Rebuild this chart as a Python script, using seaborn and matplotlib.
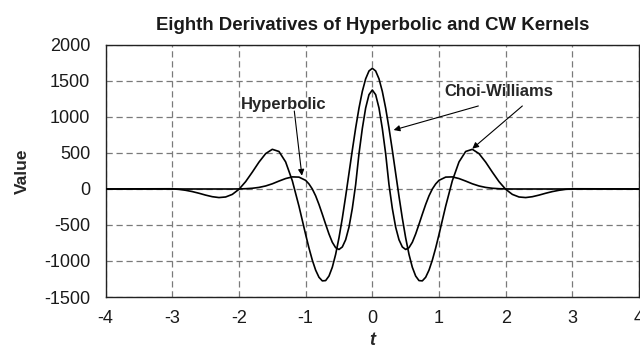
import numpy as np
import pandas as pd
import matplotlib
matplotlib.use("Agg")
import matplotlib.pyplot as plt
import seaborn as sns

# ---- data ----
t = [-4.0, -3.5, -3.0, -2.9, -2.8, -2.7, -2.6, -2.5, -2.4, -2.3, -2.2, -2.1, -2.0,
     -1.9, -1.8, -1.7, -1.6, -1.5, -1.4, -1.3, -1.2, -1.1, -1.0,
     -0.95, -0.9, -0.85, -0.8, -0.75, -0.7, -0.65, -0.6, -0.55, -0.5, -0.45, -0.4,
     -0.35, -0.3, -0.25, -0.2, -0.15, -0.1, -0.05, 0.0,
     0.05, 0.1, 0.15, 0.2, 0.25, 0.3, 0.35, 0.4, 0.45, 0.5, 0.55, 0.6, 0.65, 0.7,
     0.75, 0.8, 0.85, 0.9, 0.95, 1.0,
     1.1, 1.2, 1.3, 1.4, 1.5, 1.6, 1.7, 1.8, 1.9, 2.0, 2.1, 2.2, 2.3, 2.4, 2.5,
     2.6, 2.7, 2.8, 2.9, 3.0, 3.5, 4.0]

choi_williams = [0, 2, 3, -5, -18, -36, -59, -85, -107, -119, -111, -75, -4,
                 102, 234, 373, 491, 551, 521, 376, 115, -239, -632,
                 -820, -988, -1127, -1226, -1276, -1272, -1209, -1087, -908, -678, -406, -102,
                 218, 539, 846, 1123, 1355, 1530, 1639, 1676,
                 1639, 1530, 1355, 1123, 846, 539, 218, -102, -406, -678, -908, -1087, -1209, -1272,
                 -1276, -1226, -1127, -988, -820, -632,
                 -239, 115, 376, 521, 551, 491, 373, 234, 102, -4, -75, -111, -119, -107, -85,
                 -59, -36, -18, -5, 3, 2, 0]

hyperbolic = [0, 0, 0, 0, 0, 0, 0, 0, 0, 0, 0, 0, 1,
              4, 10, 22, 42, 72, 110, 145, 168, 165, 120,
              70, 0, -95, -215, -350, -490, -625, -740, -815, -840, -805, -705,
              -530, -270, 60, 490, 840, 1125, 1310, 1375,
              1310, 1125, 840, 490, 60, -270, -530, -705, -805, -840, -815, -740, -625, -490,
              -350, -215, -95, 0, 70, 120,
              165, 168, 145, 110, 72, 42, 22, 10, 4, 1, 0, 0, 0, 0, 0,
              0, 0, 0, 0, 0, 0, 0]

x_ticks = [-4, -3, -2, -1, 0, 1, 2, 3, 4]
y_ticks = [-1500, -1000, -500, 0, 500, 1000, 1500, 2000]

df = pd.DataFrame({"t": t + t,
                   "Value": choi_williams + hyperbolic,
                   "kernel": ["Choi-Williams"] * len(t) + ["Hyperbolic"] * len(t)})

sns.set_style("white")
plt.rcParams["font.family"] = ["Liberation Sans", "DejaVu Sans"]

fig = plt.figure(figsize=(6.4, 3.59), dpi=100)
ax = fig.add_axes([0.165, 0.1727, 0.8335, 0.702])

sns.lineplot(data=df, x="t", y="Value", hue="kernel",
             palette={"Choi-Williams": "black", "Hyperbolic": "black"},
             estimator=None, sort=False, linewidth=1.2, legend=False, ax=ax, zorder=3)

ax.set_xlim(-4, 4)
ax.set_ylim(-1500, 2000)
ax.set_xticks(x_ticks)
ax.set_yticks(y_ticks)
ax.set_xticklabels([str(v) for v in x_ticks])
ax.set_yticklabels([str(v) for v in y_ticks])
ax.tick_params(axis="both", length=0, labelsize=13, colors="#1a1a1a")
ax.tick_params(axis="y", pad=11)
ax.tick_params(axis="x", pad=9)

ax.grid(True, color="#7a7a7a", linestyle=(0, (5, 3)), linewidth=0.9)
for s in ax.spines.values():
    s.set_color("#222222")
    s.set_linewidth(1.0)

ax.set_xlabel("t", fontsize=13, fontweight="bold", fontstyle="italic", labelpad=4)
ax.set_ylabel("Value", fontsize=12.5, fontweight="bold", labelpad=10)
ax.set_title("Eighth Derivatives of Hyperbolic and CW Kernels",
             fontsize=13.4, fontweight="bold", pad=11, color="#1a1a1a")

arrow_kw = dict(arrowstyle="-|>", color="black", lw=0.8, mutation_scale=9,
                shrinkA=0, shrinkB=0)
ax.text(-1.336, 1180, "Hyperbolic", fontsize=12, fontweight="bold",
        ha="center", va="center", zorder=5)
ax.annotate("", xy=(-1.056, 185), xytext=(-1.17, 1083), arrowprops=arrow_kw, zorder=5)

ax.text(1.89, 1350, "Choi-Williams", fontsize=12, fontweight="bold",
        ha="center", va="center", zorder=5)
ax.annotate("", xy=(0.32, 819), xytext=(1.59, 1153), arrowprops=arrow_kw, zorder=5)
ax.annotate("", xy=(1.50, 560), xytext=(2.25, 1153), arrowprops=arrow_kw, zorder=5)

fig.savefig("out.png", dpi=100)
